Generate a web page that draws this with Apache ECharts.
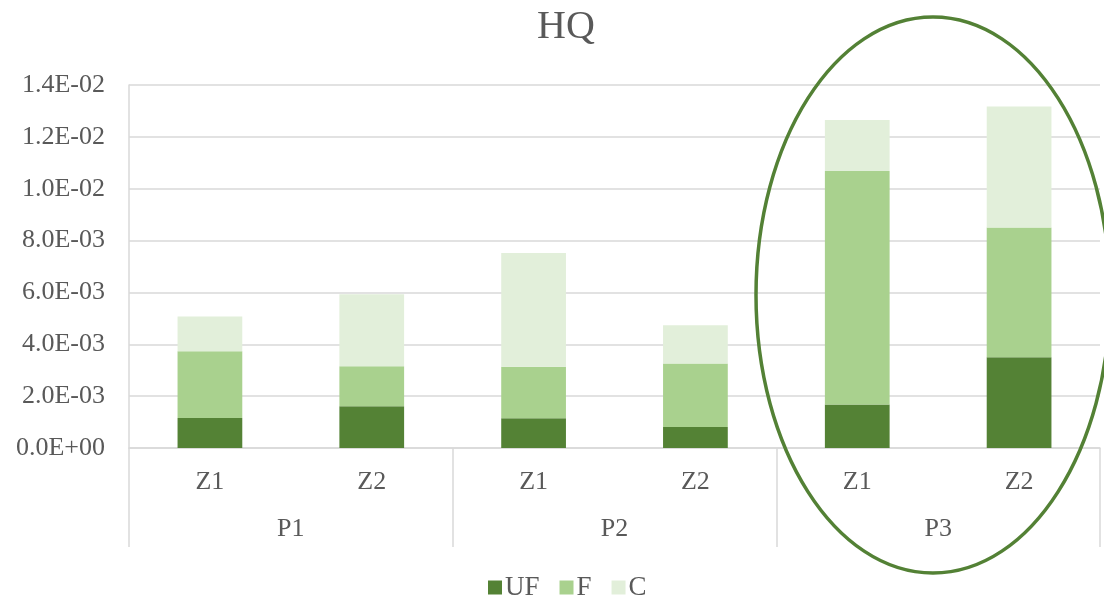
<!DOCTYPE html>
<html>
<head>
<meta charset="utf-8">
<title>HQ</title>
<script src="https://cdn.jsdelivr.net/npm/echarts@6/dist/echarts.min.js"></script>
<style>
  html, body { margin: 0; padding: 0; background: #ffffff; }
  #chart { width: 1104px; height: 602px; }
</style>
</head>
<body>
<div id="chart"></div>
<script>
// Sub-categories (zones) and their parent groups
const zones = ['Z1', 'Z2', 'Z1', 'Z2', 'Z1', 'Z2'];
const groups = ['P1', 'P2', 'P3'];

// Stacked components per bar (P1Z1, P1Z2, P2Z1, P2Z2, P3Z1, P3Z2)
const ufValues = [1.16e-3, 1.61e-3, 1.15e-3, 0.81e-3, 1.68e-3, 3.50e-3];
const fValues  = [2.57e-3, 1.54e-3, 1.98e-3, 2.45e-3, 9.00e-3, 5.00e-3];
const cValues  = [1.34e-3, 2.78e-3, 4.39e-3, 1.47e-3, 1.97e-3, 4.67e-3];

const seriesNames = ['UF', 'F', 'C'];
const seriesColors = ['#548235', '#A9D18E', '#E2EFDA'];

const FONT = '"Liberation Serif", "Times New Roman", serif';
const TEXT = '#595959';
const LINE = '#d9d9d9';

// Format as 1.4E-02 style scientific notation
function sci(v) {
  const parts = Number(v).toExponential(1).split('e');
  const exp = parseInt(parts[1], 10);
  const sign = exp < 0 ? '-' : '+';
  const digits = String(Math.abs(exp)).padStart(2, '0');
  return parts[0] + 'E' + sign + digits;
}

const chart = echarts.init(document.getElementById('chart'));

const dataSets = [ufValues, fValues, cValues];

chart.setOption({
  animation: false,
  backgroundColor: '#ffffff',
  title: {
    text: 'HQ',
    left: 532,
    top: 2,
    textStyle: { fontFamily: FONT, fontSize: 40, fontWeight: 'normal', color: TEXT }
  },
  legend: {
    data: seriesNames,
    top: 569,
    left: 483,
    icon: 'rect',
    itemWidth: 14,
    itemHeight: 14,
    itemGap: 20,
    textStyle: { fontFamily: FONT, fontSize: 27, color: TEXT, padding: [0, 0, 0, -2] }
  },
  grid: { left: 129, right: 4, top: 85, bottom: 154 },
  xAxis: [
    {
      type: 'category',
      data: zones,
      position: 'bottom',
      axisLine: { show: true, lineStyle: { color: LINE, width: 1.5 } },
      axisTick: { show: false },
      axisLabel: { fontFamily: FONT, fontSize: 26, color: TEXT, margin: 21, interval: 0 }
    },
    {
      type: 'category',
      data: groups,
      position: 'bottom',
      axisLine: { show: false },
      axisTick: { show: true, length: 99, lineStyle: { color: LINE, width: 1.5 } },
      axisLabel: { fontFamily: FONT, fontSize: 26, color: TEXT, margin: 68 },
      splitLine: { show: false }
    }
  ],
  yAxis: {
    type: 'value',
    min: 0,
    max: 0.014,
    interval: 0.002,
    axisLine: { show: true, lineStyle: { color: LINE, width: 1.5 } },
    axisTick: { show: false },
    axisLabel: {
      fontFamily: FONT, fontSize: 26, color: TEXT, margin: 24,
      formatter: sci
    },
    splitLine: { lineStyle: { color: LINE, width: 1.5 } }
  },
  series: seriesNames.map((name, i) => ({
    name: name,
    type: 'bar',
    stack: 'total',
    xAxisIndex: 0,
    barWidth: '40%',
    itemStyle: { color: seriesColors[i] },
    data: dataSets[i]
  })),
  graphic: [
    {
      type: 'ellipse',
      shape: { cx: 933, cy: 295, rx: 177, ry: 278 },
      style: { fill: null, stroke: '#538135', lineWidth: 3.5 },
      z: 100
    }
  ]
});
</script>
</body>
</html>
